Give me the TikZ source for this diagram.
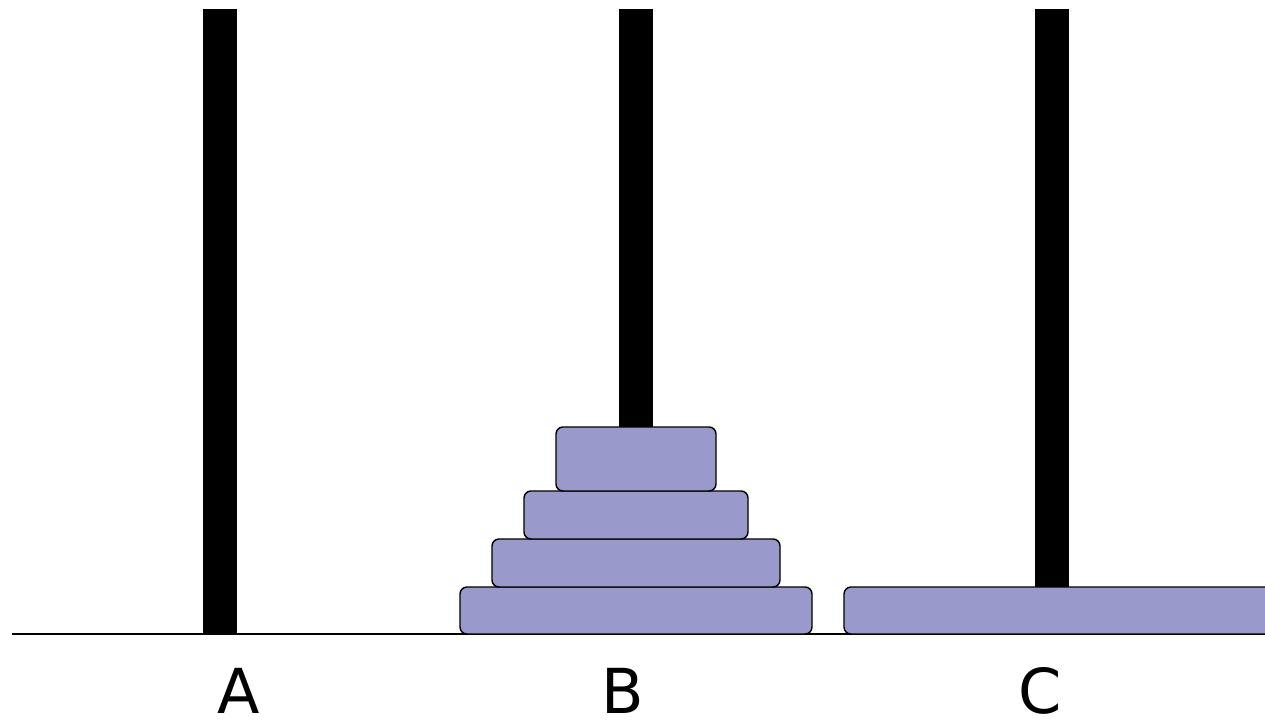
\documentclass[tikz,border=0pt]{standalone}
\usepackage{fontspec}
\setmainfont{DejaVu Sans}
\definecolor{diskfill}{HTML}{9999CC}
\tikzset{
  peg/.style={fill=black,draw=none},
  disk/.style={fill=diskfill,draw=black,line width=1.4pt,rounded corners=7pt},
  lbl/.style={font=\fontsize{62}{62}\selectfont,inner sep=0pt,anchor=base}
}
\begin{document}
\begin{tikzpicture}[x=1pt,y=-1pt]
\useasboundingbox (0,0) rectangle (1265,720);
\clip (0,0) rectangle (1265,720);
\fill[white] (0,0) rectangle (1265,720);
% pegs
\path[peg] (203,9) rectangle (237,634);
\path[peg] (619,9) rectangle (653,440);
\path[peg] (1035,9) rectangle (1069,600);
% baseline
\draw[line width=1.5pt] (12,634) -- (1265,634);
% disks on B
\draw[disk] (460,587) rectangle (812,634);
\draw[disk] (492,539) rectangle (780,587);
\draw[disk] (524,491) rectangle (748,539);
\draw[disk] (556,427) rectangle (716,491);
% disk on C
\draw[disk] (844,587) rectangle (1290,634);
% labels
\node[lbl] (la) at (239,713) {A};
\node[lbl] (lb) at (623,713) {B};
\node[lbl] (lc) at (1040,713) {C};
\end{tikzpicture}
\end{document}
